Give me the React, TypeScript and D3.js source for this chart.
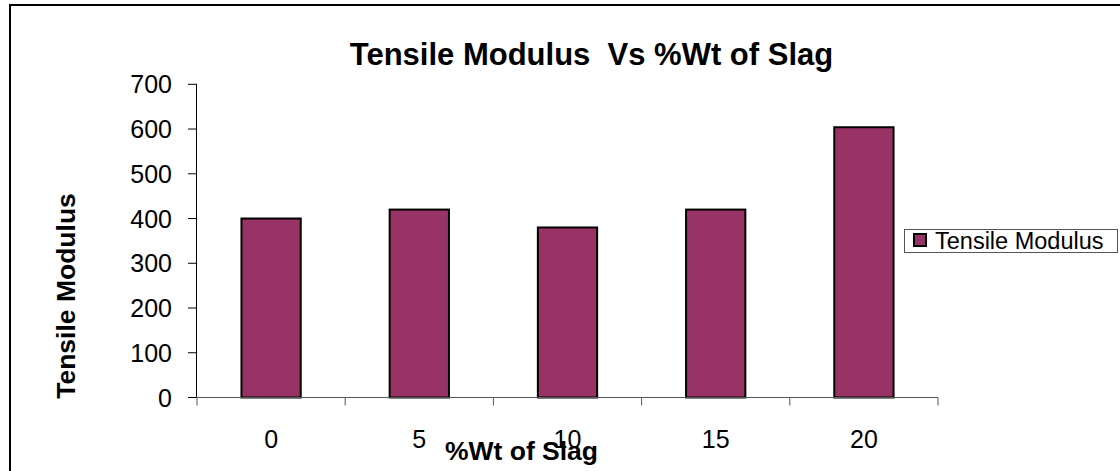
import React, { useEffect, useRef } from "react";
import * as d3 from "d3";

const categories = ["0", "5", "10", "15", "20"];
const tensileModulus = [400, 420, 380, 420, 604];
const yTicks = [0, 100, 200, 300, 400, 500, 600, 700];

const chartTitle = "Tensile Modulus  Vs %Wt of Slag";
const xTitle = "%Wt of Slag";
const yTitle = "Tensile Modulus";
const seriesName = "Tensile Modulus";

const W = 1120;
const H = 471;
const FONT = "'Liberation Sans', Arial, sans-serif";

const App: React.FC = () => {
  const svgRef = useRef<SVGSVGElement | null>(null);

  useEffect(() => {
    if (!svgRef.current) return;
    const svg = d3.select(svgRef.current);
    svg.selectAll("*").remove();

    const plot = { left: 197, right: 938, top: 84.3, bottom: 397.5 };

    // outer chart frame (cut off at right and bottom in the original)
    svg.append("rect")
      .attr("x", 10)
      .attr("y", 5)
      .attr("width", 1300)
      .attr("height", 700)
      .style("fill", "#fff")
      .style("stroke", "#000")
      .style("stroke-width", 2);

    const x = d3.scaleBand<string>()
      .domain(categories)
      .range([plot.left, plot.right])
      .paddingInner(0)
      .paddingOuter(0);

    const y = d3.scaleLinear().domain([0, 700]).range([plot.bottom, plot.top]);

    const barW = x.bandwidth() / 2.5; // excel gap width 150%

    // bars
    svg.append("g")
      .selectAll("rect")
      .data(tensileModulus)
      .enter()
      .append("rect")
      .attr("x", (d, i) => x(categories[i])! + (x.bandwidth() - barW) / 2)
      .attr("y", d => y(d))
      .attr("width", barW)
      .attr("height", d => y(0) - y(d))
      .style("fill", "#993366")
      .style("stroke", "#000")
      .style("stroke-width", 2);

    // y axis
    const yAxis = svg.append("g");
    yAxis.append("line")
      .attr("x1", plot.left - 0.5).attr("x2", plot.left - 0.5)
      .attr("y1", y(700)).attr("y2", y(0))
      .style("stroke", "#000");
    yTicks.forEach(t => {
      yAxis.append("line")
        .attr("x1", plot.left - 9).attr("x2", plot.left)
        .attr("y1", y(t)).attr("y2", y(t))
        .style("stroke", "#000");
      yAxis.append("text")
        .attr("x", 172)
        .attr("y", y(t))
        .attr("dy", "0.36em")
        .attr("text-anchor", "end")
        .style("font-family", FONT)
        .style("font-size", "25px")
        .style("fill", "#000")
        .text(t);
    });

    // x axis
    const xAxis = svg.append("g");
    xAxis.append("line")
      .attr("x1", plot.left - 0.5).attr("x2", plot.right)
      .attr("y1", plot.bottom).attr("y2", plot.bottom)
      .style("stroke", "#555");
    const boundaries = categories.map(c => x(c)!).concat([plot.right]);
    boundaries.forEach(b => {
      xAxis.append("line")
        .attr("x1", b).attr("x2", b)
        .attr("y1", plot.bottom).attr("y2", plot.bottom + 8)
        .style("stroke", "#555");
    });
    categories.forEach(c => {
      xAxis.append("text")
        .attr("x", x(c)! + x.bandwidth() / 2)
        .attr("y", 448)
        .attr("text-anchor", "middle")
        .style("font-family", FONT)
        .style("font-size", "25px")
        .style("fill", "#000")
        .text(c);
    });

    // titles
    svg.append("text")
      .attr("x", 591.5)
      .attr("y", 64.5)
      .attr("text-anchor", "middle")
      .style("font-family", FONT)
      .style("font-size", "31px")
      .style("font-weight", "bold")
      .style("white-space", "pre")
      .text(chartTitle);

    svg.append("text")
      .attr("x", 521.5)
      .attr("y", 460)
      .attr("text-anchor", "middle")
      .style("font-family", FONT)
      .style("font-size", "26.5px")
      .style("font-weight", "bold")
      .text(xTitle);

    svg.append("text")
      .attr("transform", "translate(75,296) rotate(-90)")
      .attr("text-anchor", "middle")
      .style("font-family", FONT)
      .style("font-size", "26.5px")
      .style("font-weight", "bold")
      .text(yTitle);

    // legend
    const legend = svg.append("g");
    legend.append("rect")
      .attr("x", 904.5).attr("y", 229.5)
      .attr("width", 213).attr("height", 23)
      .style("fill", "#fff")
      .style("stroke", "#555")
      .style("stroke-width", 1);
    legend.append("rect")
      .attr("x", 914).attr("y", 234)
      .attr("width", 12).attr("height", 12)
      .style("fill", "#993366")
      .style("stroke", "#000")
      .style("stroke-width", 2);
    legend.append("text")
      .attr("x", 935)
      .attr("y", 248.5)
      .style("font-family", FONT)
      .style("font-size", "23.5px")
      .style("fill", "#000")
      .text(seriesName);
  }, []);

  return (
    <svg
      ref={svgRef}
      width={W}
      height={H}
      style={{ position: "absolute", left: 0, top: 0, display: "block", background: "#fff" }}
    />
  );
};

export default App;
